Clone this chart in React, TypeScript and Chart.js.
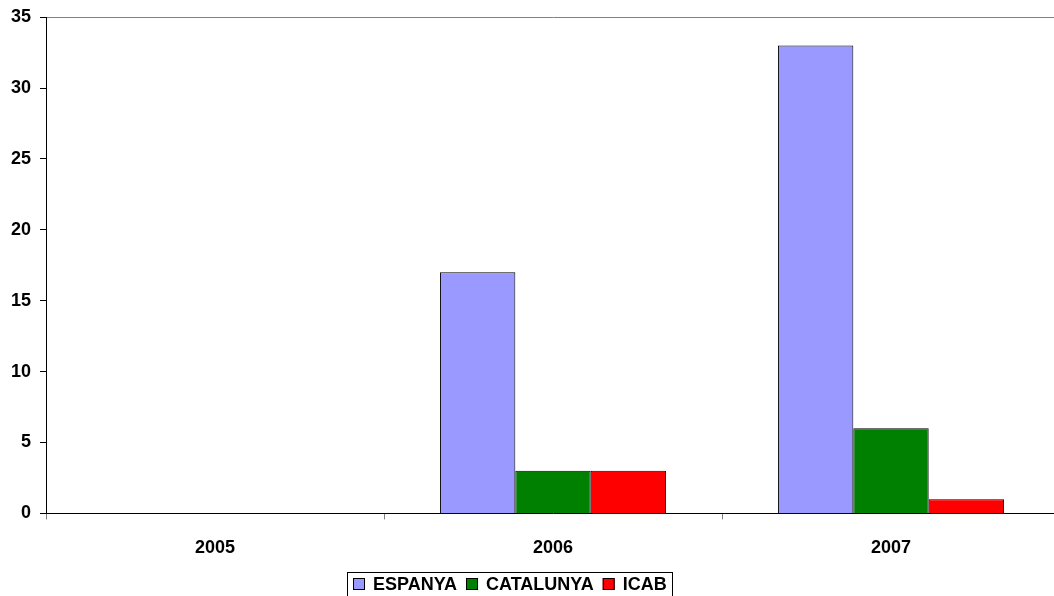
import React, { useEffect, useRef } from "react";
import { Chart, registerables } from "chart.js";

Chart.register(...registerables);

const categories = ["2005", "2006", "2007"];
const espanya = [0, 17, 33];
const catalunya = [0, 3, 6];
const icab = [0, 3, 1];
const seriesLabels = ["ESPANYA", "CATALUNYA", "ICAB"];
const seriesColors = ["#9999FF", "#008000", "#FF0000"];

const FONT = "'Liberation Sans', Arial, sans-serif";

const customLegend = {
  id: "customLegend",
  afterDraw(chart: any) {
    const ctx = chart.ctx;
    const datasets = chart.data.datasets;
    ctx.save();
    ctx.font = `bold 18px ${FONT}`;
    const sq = 12;
    const gapText = 8;
    const gapItem = 9;
    const widths = datasets.map((d: any) => ctx.measureText(d.label).width);
    const inner =
      widths.reduce((a: number, w: number) => a + sq + gapText + w, 0) + gapItem * (datasets.length - 1);
    const total = inner + 11;
    const centerX = 509;
    const left = Math.round(centerX - total / 2);
    const top = 572;
    ctx.strokeStyle = "#000";
    ctx.lineWidth = 1;
    ctx.strokeRect(left + 0.5, top + 0.5, Math.round(total), 40);
    let x = left + 6;
    const cy = 584;
    ctx.textBaseline = "middle";
    datasets.forEach((d: any, i: number) => {
      ctx.fillStyle = d.backgroundColor;
      ctx.fillRect(x, cy - 6, sq, sq);
      ctx.strokeStyle = "#000";
      ctx.strokeRect(x + 0.5, cy - 6 + 0.5, sq - 1, sq - 1);
      x += sq + gapText;
      ctx.fillStyle = "#000";
      ctx.fillText(d.label, x, cy + 1);
      x += widths[i] + gapItem;
    });
    ctx.restore();
  },
};

export default function App() {
  const ref = useRef<HTMLCanvasElement>(null);
  useEffect(() => {
    document.body.style.margin = "0";
    const chart = new Chart(ref.current!, {
      type: "bar",
      data: {
        labels: categories,
        datasets: [espanya, catalunya, icab].map((d, i) => ({
          label: seriesLabels[i],
          data: d,
          backgroundColor: seriesColors[i],
          borderColor: "#000",
          borderWidth: 1,
          categoryPercentage: 0.669,
          barPercentage: 1,
        })),
      },
      options: {
        animation: false,
        responsive: false,
        layout: { padding: { top: 0, right: 0, left: 2, bottom: 19 } },
        plugins: {
          tooltip: { enabled: false },
          legend: { display: false },
        },
        scales: {
          x: {
            offset: true,
            grid: {
              offset: true,
              drawOnChartArea: false,
              color: "#808080",
              tickLength: 6,
            },
            border: { display: true, color: "#000", width: 1 },
            ticks: {
              color: "#000",
              font: { family: FONT, size: 18, weight: "bold" },
              padding: 18,
            },
          },
          y: {
            min: 0,
            max: 35,
            ticks: {
              stepSize: 5,
              color: "#000",
              font: { family: FONT, size: 18, weight: "bold", lineHeight: 0.9 },
              padding: 9,
            },
            grid: {
              color: (c: any) => (c.tick && c.tick.value === 35 ? "#808080" : "transparent"),
              tickColor: "#000",
              tickLength: 6,
            },
            border: { display: true, color: "#000", width: 1 },
          },
        },
      },
      plugins: [customLegend],
    });
    return () => chart.destroy();
  }, []);
  return (
    <div style={{ width: 1054, height: 596, overflow: "hidden" }}>
      <canvas ref={ref} width={1060} height={596} />
    </div>
  );
}
